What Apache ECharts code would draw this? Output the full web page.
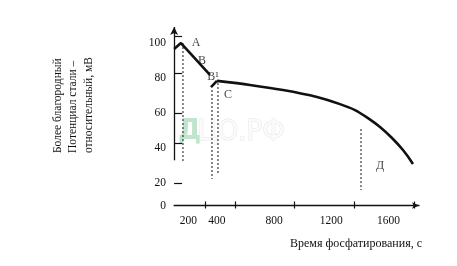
<!DOCTYPE html>
<html><head><meta charset="utf-8">
<script src="https://cdn.jsdelivr.net/npm/echarts@6/dist/echarts.min.js"></script>
<style>html,body{margin:0;padding:0;background:#fff}#c{width:457px;height:266px}</style>
</head><body><div id="c"></div>
<script>
// ---- data ----
const xLabelValues = [200, 400, 800, 1200, 1600];
const xTickValues = [316, 526, 939, 1359, 1779];
const yLabelValues = [20, 40, 60, 80, 100];
const yTickValues = [20, 43, 60, 83, 104];
const xMin = 100, xMax = 1814, yMin = 7.1, yMax = 109.4;
const yAxisLineBottom = 33;

// curve segment A-B
const segABx = [100, 148, 351];
const segABy = [96.8, 100.2, 81.9];
// short rise at B1
const segB1x = [358, 400];
const segB1y = [74.9, 78.5];
// segment C-D
const segCDx = [400, 631, 862, 1100, 1261, 1366, 1457, 1541, 1625, 1702, 1772];
const segCDy = [78.5, 76.2, 73.3, 69.3, 65.2, 61.8, 57.2, 52.1, 45.8, 38.9, 30.9];

// dotted guide lines
const guideX = [162, 365, 407, 1408];
const guideTop = [100.2, 73.3, 77.3, 50.9];
const guideBottom = [31.5, 22.3, 25.7, 16.0];

// point annotations
const pointNames = ['А', 'В', 'В¹', 'С', 'Д'];
const pointX = [253, 295, 372, 477, 1541];
const pointY = [100.2, 89.9, 80.7, 70.4, 29.7];

const xTitle = 'Время фосфатирования, с';
const yTitleLines = ['Более благородный', 'Потенциал стали –', 'относительный, мВ'];

const serif = '"Liberation Serif", "DejaVu Serif", serif';
const ink = '#111';

const zip = (xs, ys) => xs.map((x, i) => [x, ys[i]]);

const series = [];
series.push({
  type: 'line', data: zip(segABx, segABy), symbol: 'none',
  lineStyle: { color: ink, width: 2.6 }, z: 5,
  markLine: {
    silent: true, symbol: ['none', 'arrow'], symbolSize: [6, 8],
    label: { show: false },
    lineStyle: { color: ink, width: 1.3, type: 'solid' },
    data: [[{ coord: [xMin, yAxisLineBottom] }, { coord: [xMin, yMax] }]]
  }
});
series.push({ type: 'line', data: zip(segB1x, segB1y), symbol: 'none', lineStyle: { color: ink, width: 2.6 }, z: 5 });
series.push({ type: 'line', data: zip(segCDx, segCDy), symbol: 'none', smooth: 0.3, lineStyle: { color: ink, width: 2.6 }, z: 5 });
guideX.forEach((gx, i) => {
  series.push({
    type: 'line', data: [[gx, guideTop[i]], [gx, guideBottom[i]]], symbol: 'none',
    lineStyle: { color: ink, width: 1, type: [2, 2] }, z: 3
  });
});
series.push({
  type: 'scatter', symbolSize: 0,
  data: pointNames.map((n, i) => ({ name: n, value: [pointX[i], pointY[i]] })),
  label: { show: true, position: 'inside', formatter: p => p.name, color: ink, fontFamily: serif, fontSize: 12 },
  z: 6
});

const chart = echarts.init(document.getElementById('c'), null, { renderer: 'canvas' });
chart.setOption({
  animation: false,
  backgroundColor: '#fff',
  grid: { left: 174.1, right: 38, top: 27, bottom: 60.5, containLabel: false },
  title: {
    text: xTitle, left: 285, top: 233,
    textStyle: { fontFamily: serif, fontSize: 12, fontWeight: 'normal', color: ink }
  },
  xAxis: [{
    type: 'value', min: xMin, max: xMax, position: 'bottom',
    axisLine: { show: true, onZero: false, symbol: ['none', 'arrow'], symbolSize: [5, 7], lineStyle: { color: ink, width: 1.3 } },
    axisTick: { show: true, inside: true, length: 4, customValues: xTickValues, lineStyle: { color: ink, width: 1.2 } },
    axisLabel: { show: true, customValues: xLabelValues, margin: 9, formatter: v => String(v), color: ink, fontFamily: serif, fontSize: 11.5 },
    splitLine: { show: false }
  }, {
    type: 'value', min: xMin, max: xMax, position: 'bottom',
    axisLine: { show: false, onZero: false },
    axisTick: { show: true, inside: false, length: 3, customValues: xTickValues, lineStyle: { color: ink, width: 1.2 } },
    axisLabel: { show: false },
    splitLine: { show: false }
  }],
  yAxis: {
    type: 'value', min: yMin, max: yMax,
    axisLine: { show: false },
    axisTick: { show: true, inside: true, length: 8, customValues: yTickValues, lineStyle: { color: ink, width: 1.2 } },
    axisLabel: {
      show: true, customValues: [yMin].concat(yLabelValues), margin: 8,
      formatter: v => (v === yMin ? '0' : String(v)),
      color: ink, fontFamily: serif, fontSize: 11.5
    },
    splitLine: { show: false }
  },
  graphic: [
    {
      type: 'text', left: 178, top: 117, z: 0, silent: true,
      style: { text: 'Д', fill: '#bfe6cc', font: 'bold 29px "DejaVu Sans Condensed", "DejaVu Sans", sans-serif' }
    },
    {
      type: 'text', left: 197, top: 117, z: 0, silent: true,
      style: { text: 'ЦО.РФ', fill: '#fbfbfb', stroke: '#e6e6e6', lineWidth: 1, font: '29px "DejaVu Sans Condensed", "DejaVu Sans", sans-serif' }
    },
    {
      type: 'text', x: 50, y: 153, rotation: Math.PI / 2, silent: true,
      style: {
        text: yTitleLines.join('\n'), fill: ink, align: 'left', verticalAlign: 'top',
        font: '11.5px ' + serif, lineHeight: 15.5
      }
    }
  ],
  series: series
});
</script></body></html>
